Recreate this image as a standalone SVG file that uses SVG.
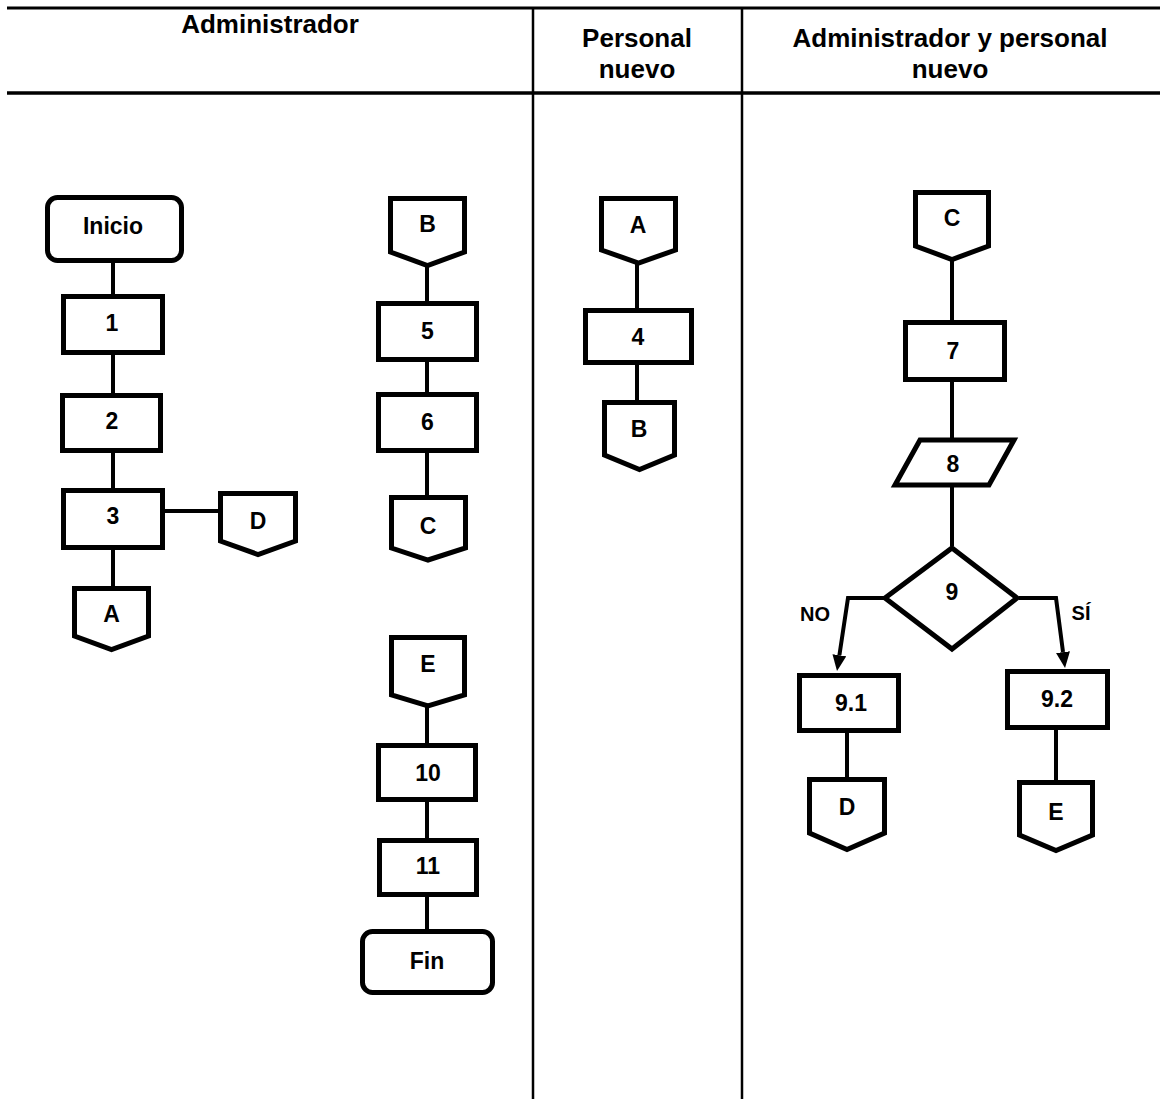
<svg xmlns="http://www.w3.org/2000/svg" width="1160" height="1099" viewBox="0 0 1160 1099">
  <style>
    .frame { stroke: #000; fill: none; }
    .shape { fill: #fff; stroke: #000; stroke-width: 5; stroke-linejoin: miter; }
    .wire { fill: none; stroke: #000; stroke-width: 4; }
    .head { font-family: "Liberation Sans", Arial, sans-serif; font-weight: bold; font-size: 26px; fill: #000; text-anchor: middle; }
    .lbl { font-family: "Liberation Sans", Arial, sans-serif; font-weight: bold; font-size: 23px; fill: #000; text-anchor: middle; }
    .cond { font-family: "Liberation Sans", Arial, sans-serif; font-weight: bold; font-size: 20px; fill: #000; text-anchor: middle; }
  </style>
  <defs>
    <marker id="arrow" markerUnits="userSpaceOnUse" markerWidth="16" markerHeight="14" viewBox="0 0 16 14" refX="0" refY="7" orient="auto">
      <path d="M0,0 L16,7 L0,14 z" fill="#000"/>
    </marker>
  </defs>

  <rect width="1160" height="1099" fill="#fff"/>

  <!-- swimlane frame -->
  <g id="lanes">
    <line class="frame" x1="7" y1="8" x2="1160" y2="8" stroke-width="3"/>
    <line class="frame" x1="7" y1="93" x2="1160" y2="93" stroke-width="3.5"/>
    <line class="frame" x1="533" y1="8" x2="533" y2="1099" stroke-width="2.5"/>
    <line class="frame" x1="742" y1="8" x2="742" y2="1099" stroke-width="2.5"/>
    <text class="head" x="270" y="33">Administrador</text>
    <text class="head" x="637" y="47">Personal</text>
    <text class="head" x="637" y="78">nuevo</text>
    <text class="head" x="950" y="47">Administrador y personal</text>
    <text class="head" x="950" y="78">nuevo</text>
  </g>

  <!-- connectors -->
  <g id="connectors">
    <line class="wire" x1="113" y1="262" x2="113" y2="295"/>
    <line class="wire" x1="113" y1="354" x2="113" y2="394"/>
    <line class="wire" x1="113" y1="452" x2="113" y2="489"/>
    <line class="wire" x1="164" y1="511" x2="219" y2="511"/>
    <line class="wire" x1="113" y1="549" x2="113" y2="587"/>
    <line class="wire" x1="427" y1="266" x2="427" y2="303"/>
    <line class="wire" x1="427" y1="361" x2="427" y2="393"/>
    <line class="wire" x1="427" y1="452" x2="427" y2="496"/>
    <line class="wire" x1="427" y1="706" x2="427" y2="744"/>
    <line class="wire" x1="427" y1="801" x2="427" y2="839"/>
    <line class="wire" x1="427" y1="896" x2="427" y2="930"/>
    <line class="wire" x1="637" y1="263" x2="637" y2="309"/>
    <line class="wire" x1="637" y1="364" x2="637" y2="401"/>
    <line class="wire" x1="952" y1="260" x2="952" y2="321"/>
    <line class="wire" x1="952" y1="381" x2="952" y2="438"/>
    <line class="wire" x1="952" y1="486" x2="952" y2="546"/>
    <path class="wire" d="M884,598 H848 L839.4,655.2" marker-end="url(#arrow)"/>
    <path class="wire" d="M1019,598 H1056 L1063,652.1" marker-end="url(#arrow)"/>
    <line class="wire" x1="847" y1="732" x2="847" y2="778"/>
    <line class="wire" x1="1056" y1="729" x2="1056" y2="781"/>
  </g>

  <!-- Administrador lane -->
  <g id="inicio">
    <rect class="shape" x="47.5" y="197.5" width="134" height="63" rx="10"/>
    <text class="lbl" x="113" y="234">Inicio</text>
  </g>
  <g id="step-1">
    <rect class="shape" x="63.5" y="296.5" width="99" height="56"/>
    <text class="lbl" x="112" y="331">1</text>
  </g>
  <g id="step-2">
    <rect class="shape" x="62.5" y="395.5" width="98" height="55"/>
    <text class="lbl" x="112" y="429">2</text>
  </g>
  <g id="step-3">
    <rect class="shape" x="63.5" y="490.5" width="99" height="57"/>
    <text class="lbl" x="113" y="524">3</text>
  </g>
  <g id="off-d-out">
    <polygon class="shape" points="220.5,493.5 295.5,493.5 295.5,541 258,554.5 220.5,541"/>
    <text class="lbl" x="258" y="529">D</text>
  </g>
  <g id="off-a-out">
    <polygon class="shape" points="74.5,588.5 148.5,588.5 148.5,636 111.5,649.5 74.5,636"/>
    <text class="lbl" x="111.5" y="622">A</text>
  </g>
  <g id="off-b-in">
    <polygon class="shape" points="390.5,198.5 464.5,198.5 464.5,252 427.5,265.5 390.5,252"/>
    <text class="lbl" x="427.5" y="232">B</text>
  </g>
  <g id="step-5">
    <rect class="shape" x="378.5" y="303.5" width="98" height="56"/>
    <text class="lbl" x="427.5" y="339">5</text>
  </g>
  <g id="step-6">
    <rect class="shape" x="378.5" y="394.5" width="98" height="56"/>
    <text class="lbl" x="427.5" y="430">6</text>
  </g>
  <g id="off-c-out">
    <polygon class="shape" points="391.5,497.5 465.5,497.5 465.5,548 428,560 391.5,548"/>
    <text class="lbl" x="428" y="534">C</text>
  </g>
  <g id="off-e-in">
    <polygon class="shape" points="391.5,637.5 464.5,637.5 464.5,695 428,706 391.5,695"/>
    <text class="lbl" x="428" y="672">E</text>
  </g>
  <g id="step-10">
    <rect class="shape" x="378.5" y="745.5" width="97" height="54"/>
    <text class="lbl" x="428" y="781">10</text>
  </g>
  <g id="step-11">
    <rect class="shape" x="379.5" y="840.5" width="97" height="54"/>
    <text class="lbl" x="428" y="874">11</text>
  </g>
  <g id="fin">
    <rect class="shape" x="362.5" y="931.5" width="130" height="61" rx="10"/>
    <text class="lbl" x="427" y="969">Fin</text>
  </g>

  <!-- Personal nuevo lane -->
  <g id="off-a-in">
    <polygon class="shape" points="601.5,198.5 675.5,198.5 675.5,250 638.5,263 601.5,250"/>
    <text class="lbl" x="638" y="233">A</text>
  </g>
  <g id="step-4">
    <rect class="shape" x="585.5" y="310.5" width="106" height="52"/>
    <text class="lbl" x="638" y="345">4</text>
  </g>
  <g id="off-b-out">
    <polygon class="shape" points="604.5,402.5 674.5,402.5 674.5,455 639.5,469.5 604.5,455"/>
    <text class="lbl" x="639" y="437">B</text>
  </g>

  <!-- Administrador y personal nuevo lane -->
  <g id="off-c-in">
    <polygon class="shape" points="915.5,192.5 988.5,192.5 988.5,246 952,259.5 915.5,246"/>
    <text class="lbl" x="952" y="226">C</text>
  </g>
  <g id="step-7">
    <rect class="shape" x="905.5" y="322.5" width="99" height="57"/>
    <text class="lbl" x="953" y="359">7</text>
  </g>
  <g id="step-8">
    <polygon class="shape" points="920,440 1014,440 989,485 895,485"/>
    <text class="lbl" x="953" y="472">8</text>
  </g>
  <g id="decision-9">
    <polygon class="shape" points="952,548 1017,598 952,649 885,598"/>
    <text class="lbl" x="952" y="600">9</text>
  </g>
  <text class="cond" x="815" y="621">NO</text>
  <text class="cond" x="1081" y="620">SÍ</text>
  <g id="step-9-1">
    <rect class="shape" x="799.5" y="675.5" width="99" height="55"/>
    <text class="lbl" x="851" y="711">9.1</text>
  </g>
  <g id="step-9-2">
    <rect class="shape" x="1007.5" y="671.5" width="100" height="56"/>
    <text class="lbl" x="1057" y="707">9.2</text>
  </g>
  <g id="off-d-in">
    <polygon class="shape" points="809.5,779.5 884.5,779.5 884.5,833 847,849.5 809.5,833"/>
    <text class="lbl" x="847" y="815">D</text>
  </g>
  <g id="off-e-out">
    <polygon class="shape" points="1019.5,782.5 1092.5,782.5 1092.5,835 1056,850.5 1019.5,835"/>
    <text class="lbl" x="1056" y="820">E</text>
  </g>
</svg>
